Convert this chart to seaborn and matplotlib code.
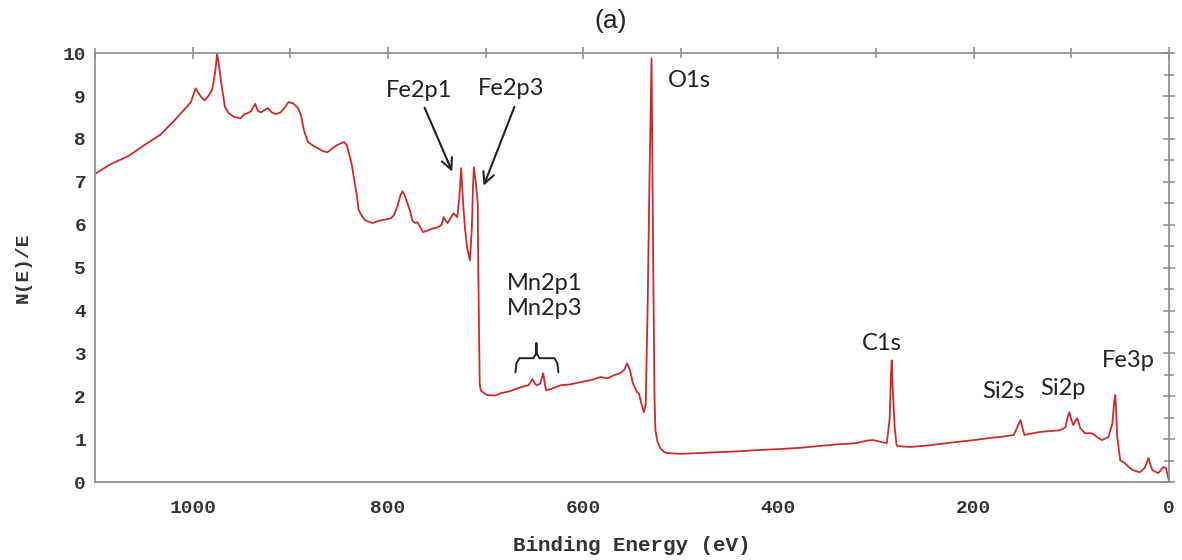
import matplotlib
matplotlib.use("Agg")
import matplotlib.pyplot as plt
from matplotlib.ticker import MultipleLocator
import seaborn as sns
import pandas as pd

# ---- data ----
energy = [1099, 1085, 1066, 1050, 1033, 1018, 1002, 997, 992, 988, 984, 980, 977, 975, 973, 971,
          967, 963, 958, 951, 947, 944, 940, 936, 933, 930, 926, 923, 919, 915, 910, 905, 902,
          897, 892, 889, 886, 882, 877, 872, 867, 862, 857, 852, 845, 842, 840, 837, 835, 832,
          830, 826, 823, 816, 808, 803, 797, 794, 790, 787, 785, 783, 780, 777, 775, 772, 770,
          767, 764, 758, 753, 749, 745, 743, 741, 739, 736, 733, 731, 729, 727, 725, 723, 721,
          719, 716, 714, 713, 712, 710, 708, 707.5, 706, 705, 700, 698, 690, 685, 675, 667, 660,
          656, 652, 649, 647, 644, 641, 639, 638, 632, 623, 613, 603, 592, 582, 575, 569, 562,
          558, 555, 552, 549, 545, 543, 540, 538, 536, 534, 532, 531, 530, 528.5, 527, 526, 524,
          521, 517, 514, 500, 480, 460, 440, 420, 400, 378, 360, 340, 320, 309, 303, 293, 289,
          286, 285, 284, 283, 281, 279, 278, 265, 245, 224, 200, 180, 173, 165, 159, 155, 152,
          150, 148, 140, 132, 122, 112, 106, 104, 102, 100, 98, 96, 94, 92, 91, 86, 79, 74, 69,
          65, 62, 58, 56, 55, 54, 53, 51, 50, 45, 41, 37, 30, 25, 22, 21, 19, 17, 11, 6, 3, 1, 0]
intensity = [7.20, 7.40, 7.60, 7.85, 8.10, 8.45, 8.85, 9.18, 9.00, 8.90, 9.00, 9.15, 9.55, 9.98,
             9.70, 9.35, 8.75, 8.60, 8.52, 8.48, 8.58, 8.60, 8.65, 8.82, 8.65, 8.62, 8.68, 8.72,
             8.62, 8.58, 8.62, 8.75, 8.86, 8.83, 8.72, 8.55, 8.20, 7.93, 7.85, 7.79, 7.72, 7.69,
             7.78, 7.86, 7.93, 7.85, 7.67, 7.40, 7.11, 6.70, 6.34, 6.18, 6.10, 6.04, 6.10, 6.12,
             6.15, 6.22, 6.45, 6.70, 6.78, 6.70, 6.50, 6.30, 6.10, 6.04, 6.06, 5.95, 5.83, 5.88,
             5.92, 5.94, 6.00, 6.18, 6.10, 6.04, 6.15, 6.27, 6.22, 6.18, 6.60, 7.32, 6.50, 5.90,
             5.48, 5.17, 5.94, 6.80, 7.34, 7.00, 6.50, 5.00, 2.30, 2.14, 2.05, 2.03, 2.02, 2.07,
             2.12, 2.19, 2.24, 2.26, 2.40, 2.28, 2.26, 2.30, 2.54, 2.25, 2.14, 2.18, 2.26, 2.28,
             2.33, 2.38, 2.45, 2.42, 2.49, 2.54, 2.62, 2.77, 2.60, 2.30, 2.10, 2.07, 1.80, 1.63,
             1.80, 4.08, 7.20, 8.50, 9.88, 5.60, 2.00, 1.21, 0.95, 0.79, 0.70, 0.68, 0.66, 0.68,
             0.70, 0.72, 0.75, 0.77, 0.80, 0.84, 0.88, 0.91, 0.97, 0.98, 0.93, 0.91, 1.50, 2.40,
             2.84, 2.20, 1.28, 0.86, 0.84, 0.82, 0.86, 0.92, 0.98, 1.04, 1.05, 1.08, 1.10, 1.30,
             1.45, 1.25, 1.10, 1.14, 1.17, 1.19, 1.21, 1.28, 1.50, 1.63, 1.45, 1.33, 1.42, 1.49,
             1.35, 1.26, 1.14, 1.14, 1.06, 0.98, 1.02, 1.05, 1.37, 1.90, 2.03, 1.60, 1.05, 0.70,
             0.51, 0.44, 0.35, 0.28, 0.23, 0.33, 0.50, 0.56, 0.40, 0.28, 0.21, 0.35, 0.33, 0.12,
             0.05]

peak_labels = ["Fe2p1", "Fe2p3", "O1s", "Mn2p1", "Mn2p3", "C1s", "Si2s", "Si2p", "Fe3p"]

df = pd.DataFrame({"Binding Energy (eV)": energy, "N(E)/E": intensity})

sns.set_theme(style="white")
plt.rcParams["font.family"] = ["DejaVu Sans"]

fig = plt.figure(figsize=(11.82, 5.60), dpi=100)
ax = fig.add_axes([0.0804, 0.139, 0.9086, 0.766])

sns.lineplot(data=df, x="Binding Energy (eV)", y="N(E)/E", ax=ax, color="#cc2b2b",
             linewidth=1.3, estimator=None, sort=True)

ax.set_xlim(1100, 0)
ax.set_ylim(0, 10)
ax.xaxis.set_major_locator(MultipleLocator(200))
ax.xaxis.set_minor_locator(MultipleLocator(100))
ax.yaxis.set_major_locator(MultipleLocator(1))
ax.yaxis.set_minor_locator(MultipleLocator(0.5))

spine_col = "#8a8a8a"
for s in ax.spines.values():
    s.set_color(spine_col)
    s.set_linewidth(1.2)
ax.tick_params(which="both", direction="inout", top=True, right=True, color=spine_col, width=1.1)
ax.tick_params(which="major", length=9)
ax.tick_params(which="minor", length=7)
ax.tick_params(axis="both", which="major", labelsize=14, labelcolor="#333333", pad=8)
for lab in ax.get_xticklabels() + ax.get_yticklabels():
    lab.set_fontfamily("Liberation Mono")
    lab.set_fontweight("bold")
ax.tick_params(axis="y", pad=2)

ax.set_xlabel("Binding Energy (eV)", family="Liberation Mono", fontweight="bold",
              fontsize=15, color="#333333", labelpad=14)
ax.set_ylabel("N(E)/E", family="Liberation Mono", fontweight="bold",
              fontsize=14, color="#333333", labelpad=22)

fig.text(0.517, 0.963, "(a)", ha="center", va="center", family="Liberation Sans",
         fontsize=19, color="#222222")

tfont = dict(family="Lato", fontsize=17, color="#222222")
# arrows for Fe2p peaks
ax.annotate("", xy=(733, 7.18), xytext=(763.6, 8.79),
            arrowprops=dict(arrowstyle="->", color="#222222", lw=1.5, mutation_scale=20))
ax.annotate("", xy=(703, 6.85), xytext=(669.4, 8.81),
            arrowprops=dict(arrowstyle="->", color="#222222", lw=1.5, mutation_scale=20))
ax.text(767.7, 8.97, peak_labels[0], ha="center", va="baseline", **tfont)
ax.text(673.5, 9.02, peak_labels[1], ha="center", va="baseline", **tfont)
ax.text(512.8, 9.21, peak_labels[2], ha="left", va="baseline", **tfont)
ax.text(639.7, 4.48, peak_labels[3], ha="center", va="baseline", **tfont)
ax.text(639.7, 3.89, peak_labels[4], ha="center", va="baseline", **tfont)
ax.text(293.8, 3.08, peak_labels[5], ha="center", va="baseline", **tfont)
ax.text(169.4, 1.96, peak_labels[6], ha="center", va="baseline", **tfont)
ax.text(108.5, 2.03, peak_labels[7], ha="center", va="baseline", **tfont)
ax.text(42.0, 2.68, peak_labels[8], ha="center", va="baseline", **tfont)

# curly brace over the Mn peaks
brace_x = [669.4, 668.4, 665.3, 651.0, 647.9, 647.9, 647.9, 644.8, 629.5, 626.4, 625.4]
brace_y = [2.56, 2.77, 2.89, 2.89, 3.01, 3.24, 3.01, 2.89, 2.89, 2.77, 2.56]
ax.plot(brace_x, brace_y, color="#222222", lw=1.4)

fig.savefig("out.png", dpi=100, facecolor="white")
